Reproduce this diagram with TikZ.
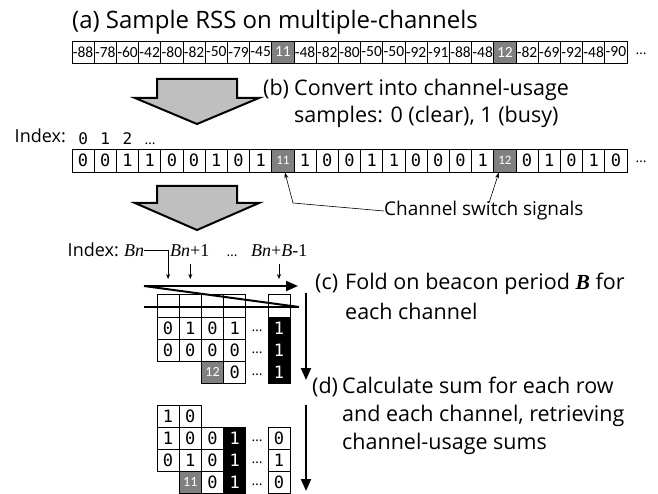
\documentclass[tikz,border=0pt]{standalone}
\usepackage{fontspec}
\setmainfont{Open Sans}
\newfontfamily\cellfont{Carlito}
\newfontfamily\monofont{DejaVu Sans Mono}
\newfontfamily\seriffont{Liberation Serif}
\usetikzlibrary{arrows.meta,calc}
\begin{document}
\begin{tikzpicture}[x=1pt,y=-1pt,
  maintext/.style={inner sep=0pt,font=\fontsize{21.5}{21.5}\selectfont},
  titletext/.style={inner sep=0pt,font=\fontsize{24}{24}\selectfont},
  idxtext/.style={inner sep=0pt,font=\fontsize{18}{18}\selectfont},
  csstext/.style={inner sep=0pt,font=\fontsize{19}{19}\selectfont},
  bntext/.style={inner sep=0pt,font=\seriffont\itshape\fontsize{18}{18}\selectfont},
  acell/.style={draw,line width=0.7pt,minimum width=22.2pt,minimum height=22pt,inner sep=0pt,font=\cellfont\fontsize{15.5}{15.5}\selectfont},
  agray/.style={fill=black!50,text=white},
  bcell/.style={draw,line width=0.7pt,minimum width=22.2pt,minimum height=23pt,inner sep=0pt,font=\monofont\fontsize{17}{17}\selectfont},
  bgray/.style={fill=black!50,text=white,font=\cellfont\fontsize{13}{13}\selectfont},
  gc/.style={draw,line width=0.7pt,minimum width=22.2pt,minimum height=22pt,inner sep=0pt,font=\monofont\fontsize{17}{17}\selectfont},
  gk/.style={gc,fill=black,text=white},
  gg/.style={gc,fill=black!50,text=white,font=\cellfont\fontsize{14}{14}\selectfont},
  dots/.style={inner sep=0pt,font=\fontsize{14}{14}\selectfont},
  bigarrow/.style={draw=black,line width=2pt,fill=black!25,line join=miter},
  smallarr/.style={line width=0.6pt,-{Stealth[length=5pt,width=4pt]}},
  thinarr/.style={line width=0.6pt,-{Stealth[length=6pt,width=4pt]}},
  thickline/.style={line width=2pt},
  thickarr/.style={line width=2pt,-{Triangle[length=12pt,width=10pt]}}
]
\useasboundingbox (0,0) rectangle (658,494);

% (a)
\node[titletext,anchor=base west] (ta) at (72,29) {(a) Sample RSS on multiple-channels};
\foreach \v [count=\i from 0] in {-88,-78,-60,-42,-80,-82,-50,-79,-45,11,-48,-82,-80,-50,-50,-92,-91,-88,-48,12,-82,-69,-92,-48,-90}{
  \ifnum\v>10
    \node[acell,agray] (a\i) at ({83.1+22.2*\i},52) {\v};
  \else
    \node[acell] (a\i) at ({83.1+22.2*\i},52) {\v};
  \fi
}
\node[dots] (adots) at (641,54) {…};

% big arrow 1
\draw[bigarrow] (157,79) -- (237,79) -- (237,98) -- (259,98) -- (197,124) -- (135,98) -- (157,98) -- cycle;

% (b)
\node[maintext,anchor=base west] (tb) at (263,96) {(b)};
\node[maintext,anchor=base west] (tb1) at (294,96) {Convert into channel-usage};
\node[maintext,anchor=base west] (tb2) at (294,123) {samples: 0 (clear), 1 (busy)};

\node[idxtext,anchor=base east] (idxb) at (66,143) {Index:};
\node[inner sep=0pt,font=\monofont\fontsize{16}{16}\selectfont,anchor=base] (i0) at (83.1,145) {0};
\node[inner sep=0pt,font=\monofont\fontsize{16}{16}\selectfont,anchor=base] (i1) at (105.3,145) {1};
\node[inner sep=0pt,font=\monofont\fontsize{16}{16}\selectfont,anchor=base] (i2) at (127.5,145) {2};
\node[dots,anchor=base] (idots) at (150,145) {…};

\foreach \v [count=\i from 0] in {0,0,1,1,0,0,1,0,1,11,1,0,0,1,1,0,0,0,1,12,0,1,0,1,0}{
  \ifnum\v>10
    \node[bcell,bgray] (b\i) at ({83.1+22.2*\i},160.5) {\v};
  \else
    \node[bcell] (b\i) at ({83.1+22.2*\i},160.5) {\v};
  \fi
}
\node[dots] (bdots) at (641,162) {…};

% channel switch signals
\node[csstext,anchor=west] (css) at (384,211) {Channel switch signals};
\coordinate (cs1) at (293,203);
\coordinate (cs2) at (489,203);
\draw[thinarr] (css.west) -- (cs1) -- ($(b9.south)+(2,0)$);
\draw[thinarr] (cs2) -- ($(b19.south)+(-6,0)$);

% big arrow 2
\draw[bigarrow] (157,186) -- (237,186) -- (237,203) -- (259,203) -- (197,230) -- (135,203) -- (157,203) -- cycle;

% (c) index
\node[idxtext,anchor=base east] (idxc) at (119,257) {Index:};
\node[bntext,anchor=base west] (bn) at (124,257) {Bn};
\node[bntext,anchor=base west] (bn1) at (170,257) {Bn\textup{+1}};
\node[dots,anchor=base] (bndots) at (232,257) {…};
\node[bntext,anchor=base west] (bnb) at (251,257) {Bn\textup{+}B\textup{-1}};

% (c) grid
\foreach \x [count=\k] in {168.1,190.3,212.5,234.7,279}{
  \node[gc,minimum height=23pt] (ct\k) at (\x,305.5) {};
}
\coordinate (q1t) at (168.1,250.5);
\coordinate (q1) at (168.1,279);
\coordinate (q2s) at (190.3,264);
\coordinate (q2) at (190.3,279);
\coordinate (q3s) at (279,264);
\coordinate (q3) at (279,279);
\draw[smallarr] (bn.east |- q1t) -- (q1t) -- (q1);
\draw[smallarr] (q2s) -- (q2);
\draw[smallarr] (q3s) -- (q3);

\node[gc] (c11) at (168.1,328) {0};
\node[gc] (c12) at (190.3,328) {1};
\node[gc] (c13) at (212.5,328) {0};
\node[gc] (c14) at (234.7,328) {1};
\node[gk] (c15) at (279,328) {1};
\node[gc] (c21) at (168.1,350) {0};
\node[gc] (c22) at (190.3,350) {0};
\node[gc] (c23) at (212.5,350) {0};
\node[gc] (c24) at (234.7,350) {0};
\node[gk] (c25) at (279,350) {1};
\node[gg] (c33) at (212.5,372) {12};
\node[gc] (c34) at (234.7,372) {0};
\node[gk] (c35) at (279,372) {1};
\node[dots] (cd1) at (257,331) {…};
\node[dots] (cd2) at (257,353) {…};
\node[dots] (cd3) at (257,375) {…};

\coordinate (f1) at (144,286);
\coordinate (f2) at (298,286);
\coordinate (f3) at (299,307);
\coordinate (f4) at (144,307);
\draw[thickarr] (f1) -- (f2);
\draw[thickline] (f1) -- (f3);
\draw[thickline] (f4) -- (f3);

\coordinate (vc1) at (306,293);
\coordinate (vc2) at (306,380);
\draw[thickarr] (vc1) -- (vc2);

% (c) text
\node[maintext,anchor=base west] (tc) at (315,289) {(c)};
\node[maintext,anchor=base west] (tc1) at (345,289) {Fold on beacon period {\seriffont\bfseries\itshape B} for};
\node[maintext,anchor=base west] (tc2) at (345,319) {each channel};

% (d) text
\node[maintext,anchor=base west] (td) at (312,393) {(d)};
\node[maintext,anchor=base west] (td1) at (342,393) {Calculate sum for each row};
\node[maintext,anchor=base west] (td2) at (342,421) {and each channel, retrieving};
\node[maintext,anchor=base west] (td3) at (342,449) {channel-usage sums};

% (d) grid
\node[gc] (d01) at (168.1,416) {1};
\node[gc] (d02) at (190.3,416) {0};
\node[gc] (d11) at (168.1,438) {1};
\node[gc] (d12) at (190.3,438) {0};
\node[gc] (d13) at (212.5,438) {0};
\node[gk] (d14) at (234.7,438) {1};
\node[gc] (d15) at (279,438) {0};
\node[gc] (d21) at (168.1,460) {0};
\node[gc] (d22) at (190.3,460) {1};
\node[gc] (d23) at (212.5,460) {0};
\node[gk] (d24) at (234.7,460) {1};
\node[gc] (d25) at (279,460) {1};
\node[gg] (d32) at (190.3,482) {11};
\node[gc] (d33) at (212.5,482) {0};
\node[gk] (d34) at (234.7,482) {1};
\node[gc] (d35) at (279,482) {0};
\node[dots] (dd1) at (257,441) {…};
\node[dots] (dd2) at (257,463) {…};
\node[dots] (dd3) at (257,485) {…};

\coordinate (vd1) at (306,405);
\coordinate (vd2) at (306,491);
\draw[thickarr] (vd1) -- (vd2);
\end{tikzpicture}
\end{document}
